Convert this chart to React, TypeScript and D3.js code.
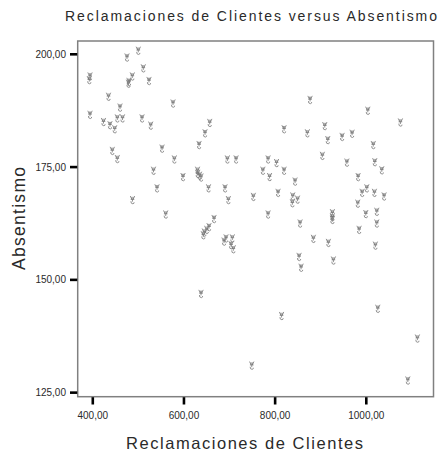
import React from "react";
import * as d3 from "d3";

const chartTitle = "Reclamaciones de Clientes versus Absentismo";
const xTitle = "Reclamaciones de Clientes";
const yTitle = "Absentismo";

const xTicks = [400, 600, 800, 1000];
const yTicks = [125, 150, 175, 200];

const reclamaciones = [
  499.8, 475.0, 510.8, 393.9, 392.3, 486.7, 479.4, 478.3, 523.3, 434.5,
  576.0, 459.7, 393.9, 423.5, 437.7, 448.1, 453.8, 465.2, 508.0, 527.1,
  442.8, 453.8, 551.9, 578.9, 533.2, 597.9, 540.9, 487.1, 560.0, 876.6,
  656.5, 646.2, 633.1, 819.6, 870.7, 695.2, 714.3, 784.5, 803.1, 629.8,
  630.2, 634.2, 637.4, 773.1, 787.8, 819.6, 843.7, 653.9, 690.1, 697.4,
  752.2, 806.4, 838.7, 849.2, 837.8, 666.0, 784.5, 1003.3, 1074.8, 908.9,
  915.5, 946.9, 968.8, 1015.3, 903.6, 957.4, 1018.6, 1034.0, 982.0, 990.8,
  1001.1, 1017.8, 1039.0, 981.3, 925.6, 925.6, 925.6, 998.9, 1023.0, 1023.0,
  854.7, 984.2, 883.9, 916.8, 1019.9, 852.5, 856.9, 927.8, 655.0, 650.0,
  644.7, 642.5, 692.3, 687.9, 706.1, 703.3, 708.3, 637.4, 814.1, 1025.2,
  748.7, 1091.1, 1112.1,
];

const absentismo = [
  200.8, 199.3, 196.9, 195.1, 194.3, 195.1, 193.9, 193.5, 194.1, 190.6,
  189.1, 188.2, 186.6, 185.0, 184.3, 183.4, 185.8, 185.8, 185.8, 184.2,
  178.6, 176.8, 179.1, 176.7, 174.2, 172.8, 170.3, 167.7, 164.5, 189.9,
  184.8, 182.5, 179.9, 183.4, 182.5, 176.7, 176.7, 176.7, 175.9, 174.2,
  173.5, 173.1, 172.7, 174.2, 172.8, 174.2, 171.8, 170.3, 170.3, 167.7,
  168.4, 169.3, 168.5, 167.8, 167.0, 163.5, 164.5, 187.5, 184.9, 184.1,
  181.0, 181.7, 182.4, 179.9, 177.5, 176.0, 176.1, 174.3, 172.8, 169.3,
  170.3, 169.3, 168.5, 166.9, 164.8, 163.9, 163.3, 164.6, 165.1, 162.5,
  162.5, 161.1, 159.1, 158.2, 157.6, 155.1, 152.7, 154.3, 161.7, 161.1,
  160.5, 159.9, 159.2, 158.5, 159.2, 157.7, 156.8, 146.9, 142.0, 143.6,
  131.0, 127.7, 137.0,
];

const W = 441;
const H = 456;
const left = 77.7;
const right = 433.5;
const top = 41;
const bottom = 396.7;

const fmt = (v: number) => d3.format(".2f")(v).replace(".", ",");

const markerPath =
  "M-2.2,-4 L-0.6,-0.6 M2.2,-4 L0.6,-0.6 M-0.6,-3.2 L-0.6,-0.6 M0.6,-3.2 L0.6,-0.6 " +
  "M-1.8,-0.6 L1.8,-0.6 M0,-0.6 L0,1.6 M-1.6,1.2 Q-1.8,3.8 0.4,3.8 Q1.8,3.6 1.6,2.2";

export default function App() {
  const x = d3.scaleLinear().domain([366.9, 1147.4]).range([left, right]);
  const y = d3.scaleLinear().domain([124.1, 202.95]).range([bottom, top]);

  const points = reclamaciones.map((v, i) => ({ x: v, y: absentismo[i] }));

  return (
    <svg
      width={W}
      height={H}
      style={{ position: "absolute", left: 0, top: 0, background: "#fff" }}
      fontFamily="'Liberation Sans', Arial, sans-serif"
    >
      <rect x={0} y={0} width={W} height={H} fill="#fff" />
      <text x={65} y={21} fontSize={14} fill="#2a2a2a" textLength={372} lengthAdjust="spacing">
        {chartTitle}
      </text>

      <rect
        x={left}
        y={top}
        width={right - left}
        height={bottom - top}
        fill="none"
        stroke="#808080"
        strokeWidth={1.5}
      />

      {yTicks.map((t) => (
        <g key={"y" + t}>
          <line x1={70} x2={left - 0.5} y1={y(t)} y2={y(t)} stroke="#000" strokeWidth={2.6} />
          <text x={66} y={y(t) + 3.6} fontSize={10} textAnchor="end" fill="#2a2a2a">
            {fmt(t)}
          </text>
        </g>
      ))}

      {xTicks.map((t) => (
        <g key={"x" + t}>
          <line x1={x(t)} x2={x(t)} y1={bottom + 0.5} y2={404.5} stroke="#000" strokeWidth={2.6} />
          <text x={x(t)} y={418.8} fontSize={10} textAnchor="middle" fill="#2a2a2a">
            {fmt(t)}
          </text>
        </g>
      ))}

      <text x={244.5} y={448.5} fontSize={16.5} textAnchor="middle" fill="#2a2a2a" textLength={237} lengthAdjust="spacing">
        {xTitle}
      </text>

      <text
        transform={`translate(24.5,218.5) rotate(-90)`}
        fontSize={17.5}
        textAnchor="middle"
        fill="#2a2a2a"
        textLength={103}
        lengthAdjust="spacing"
      >
        {yTitle}
      </text>

      <g>
        {points.map((p, i) => (
          <path
            key={i}
            d={markerPath}
            transform={`translate(${x(p.x)},${y(p.y)})`}
            fill="none"
            stroke="#777"
            strokeWidth={0.8}
          />
        ))}
      </g>
    </svg>
  );
}
